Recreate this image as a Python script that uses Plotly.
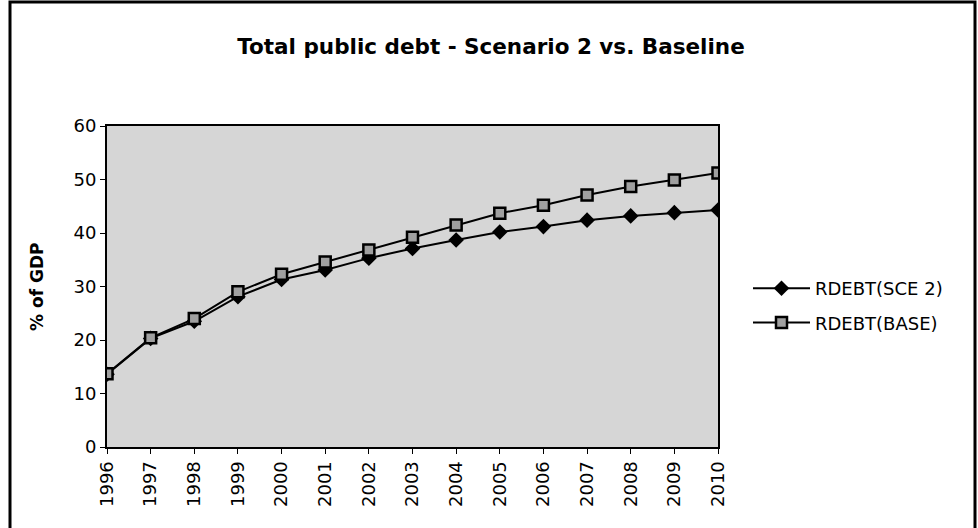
import plotly.graph_objects as go

years = [str(y) for y in range(1996, 2011)]
sce2 = [13.6, 20.3, 23.5, 28.1, 31.3, 33.1, 35.3, 37.1, 38.7, 40.2, 41.2, 42.4, 43.2, 43.8, 44.3]
base = [13.7, 20.4, 24.0, 29.0, 32.3, 34.6, 36.8, 39.2, 41.5, 43.7, 45.2, 47.1, 48.7, 49.9, 51.2]
yticks = [0, 10, 20, 30, 40, 50, 60]

W, H = 978, 528
L, R, T, B = 107, 718, 126, 447
PW, PH = R - L, B - T


def px(x):
    return (x - L) / PW


def py(y):
    return (B - y) / PH


font = "DejaVu Sans, Liberation Sans, sans-serif"

fig = go.Figure()
fig.add_trace(go.Scatter(
    x=years, y=sce2, name="RDEBT(SCE 2)", mode="lines+markers", legendgroup="a",
    line=dict(color="black", width=2),
    marker=dict(symbol="diamond", size=12, color="black"),
))
fig.add_trace(go.Scatter(
    x=years, y=base, name="RDEBT(BASE)", mode="lines+markers", legendgroup="b",
    line=dict(color="black", width=2),
    marker=dict(symbol="square", size=11, color="#a0a0a0", line=dict(color="black", width=2.5)),
))

fig.update_layout(
    width=W, height=H,
    margin=dict(l=L, r=W - R, t=T, b=H - B, pad=0),
    paper_bgcolor="white",
    plot_bgcolor="#d6d6d6",
    font=dict(family=font, size=18, color="black"),
    title=dict(text="<b>Total public debt - Scenario 2 vs. Baseline</b>",
               x=491 / W, xanchor="center", y=1 - 46 / H, yanchor="middle",
               font=dict(size=21.5, family=font)),
    showlegend=True,
    legend=dict(x=px(748), xanchor="left", y=py(270), yanchor="top",
                bgcolor="rgba(0,0,0,0)", font=dict(size=18), tracegroupgap=8,
                traceorder="grouped", itemwidth=57),
    xaxis=dict(type="category", range=[0, len(years) - 1], showgrid=False,
               showline=True, linecolor="black", linewidth=2, mirror=True,
               ticks="outside", ticklen=5, tickcolor="black", tickangle=-90,
               tickfont=dict(size=18)),
    yaxis=dict(range=[0, 60], tickvals=yticks, showgrid=False, zeroline=False,
               showline=True, linecolor="black", linewidth=2, mirror=True,
               ticks="outside", ticklen=5, tickcolor="black",
               tickfont=dict(size=18)),
    annotations=[dict(text="<b>% of GDP</b>", xref="paper", yref="paper",
                      x=px(37), y=py(287), xanchor="center", yanchor="middle",
                      textangle=-90, showarrow=False, font=dict(size=17))],
    shapes=[dict(type="rect", xref="paper", yref="paper",
                 x0=px(10), x1=px(975), y0=py(560), y1=py(2),
                 line=dict(color="black", width=3), fillcolor="rgba(0,0,0,0)", layer="below")],
)

fig.write_html("out.html", config={"displayModeBar": False},
               post_script="document.body.style.margin='0';")
